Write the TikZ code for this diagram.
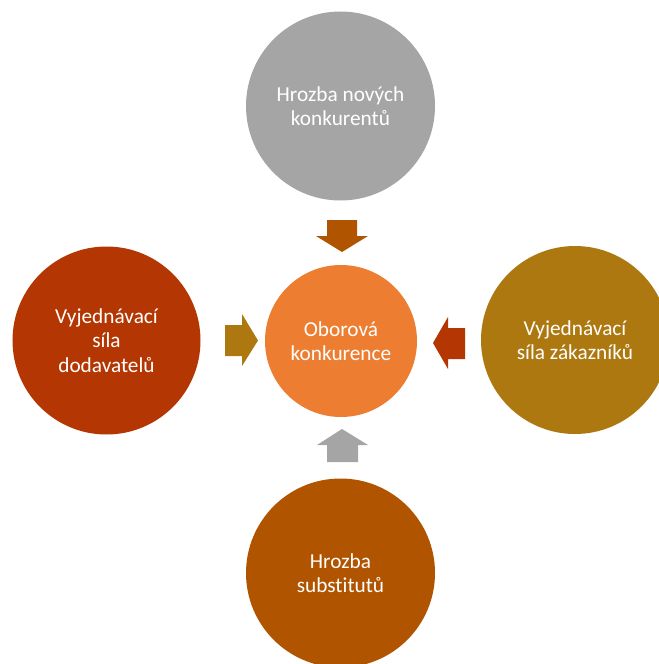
\documentclass[tikz,border=0pt]{standalone}
\usepackage{fontspec}
\setmainfont{Carlito}[Ligatures=NoCommon]
\definecolor{cgray}{HTML}{A5A5A5}
\definecolor{corange}{HTML}{ED7D31}
\definecolor{cred}{HTML}{B43602}
\definecolor{cgold}{HTML}{AE7811}
\definecolor{cbrown}{HTML}{B05400}
\begin{document}
\begin{tikzpicture}[x=1bp,y=-1bp,
  force/.style={circle,inner sep=0pt,minimum size=189bp,text=white,align=center,
    font=\fontsize{21.3bp}{24.5bp}\selectfont},
  core/.style={force,minimum size=152bp}]
\useasboundingbox (0,0) rectangle (659,664);
\clip (0,0) rectangle (659,664);
\node[force,fill=cgray] (new) at (340.5,106) {Hrozba nových\\konkurentů};
\node[force,fill=cred,minimum size=188bp] (sup) at (106.5,340.5) {Vyjednávací\\síla\\dodavatelů};
\node[force,fill=cgold,minimum size=188bp] (cus) at (575,340) {Vyjednávací\\síla zákazníků};
\node[force,fill=cbrown] (sub) at (340.5,573) {Hrozba\\substitutů};
\node[core,fill=corange] (riv) at (341,341) {Oborová\\konkurence};
% block arrows
\fill[cbrown] (327,220)--(357,220)--(357,236)--(368,236)--(342,252)--(316,236)--(327,236)--cycle;
\fill[cgold] (225,325)--(242,325)--(242,314)--(258,340.5)--(242,366)--(242,356)--(225,356)--cycle;
\fill[cred] (465,328)--(448,328)--(448,317)--(433,343)--(448,369)--(448,359)--(465,359)--cycle;
\fill[cgray] (327,462)--(358,462)--(358,445)--(368,445)--(342,429)--(317,445)--(327,445)--cycle;
\end{tikzpicture}
\end{document}
